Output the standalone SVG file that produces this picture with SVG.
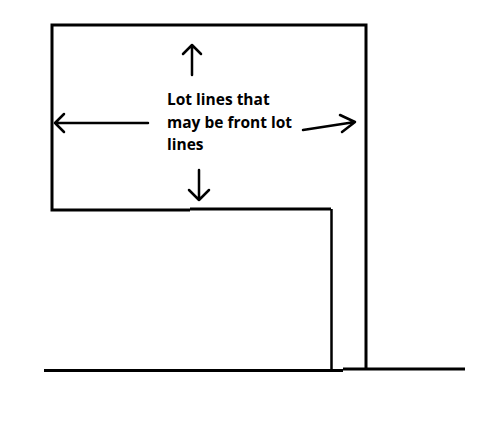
<svg xmlns="http://www.w3.org/2000/svg" width="495" height="447" viewBox="0 0 495 447">
<style>
.ln{stroke:#000;stroke-width:3;fill:none;stroke-linecap:butt}
.thin{stroke:#000;stroke-width:2.5;fill:none}
.ar{stroke:#000;stroke-width:2.5;fill:none;stroke-linecap:round;stroke-linejoin:round}
.lbl{font-family:"Open Sans","Liberation Sans",sans-serif;font-weight:bold;font-size:15.5px;fill:#000}
</style>
<rect width="495" height="447" fill="#fff"/>
<g id="lot">
<polyline class="ln" points="190,210 52,210 52,25 366,25 366,369"/>
<polyline class="ln" points="190,209 331,209"/>
<line class="thin" x1="331.5" y1="209" x2="331.5" y2="370"/>
<line class="ln" x1="44" y1="370.5" x2="343" y2="370.5"/>
<line class="ln" x1="343" y1="369" x2="465" y2="369"/>
</g>
<g id="arrows">
<path class="ar" d="M192,75 L192,45 M183,54 L192,45 L201,54"/>
<path class="ar" d="M148,123 L55,123 M64,114 L55,123 L64,132"/>
<path class="ar" d="M303,130 L355,122 M340,115 L355,122 L342,132"/>
<path class="ar" d="M199,170 L199,200 M189,190 L199,200 L209,190"/>
</g>
<g id="label">
<text class="lbl" x="167" y="105">Lot lines that</text>
<text class="lbl" x="167" y="128">may be front lot</text>
<text class="lbl" x="167" y="150">lines</text>
</g>
</svg>
